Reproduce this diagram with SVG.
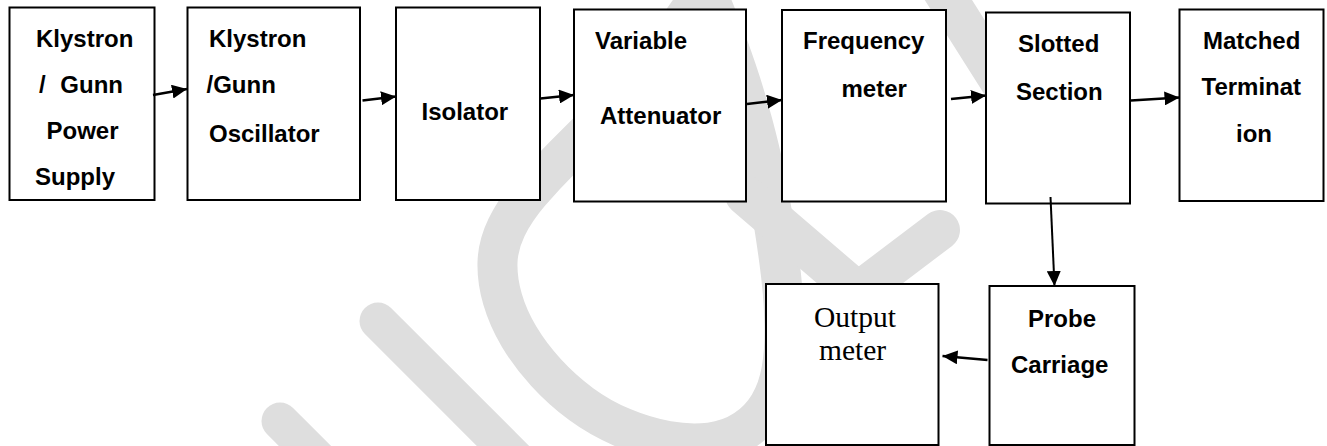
<svg xmlns="http://www.w3.org/2000/svg" width="1327" height="446" viewBox="0 0 1327 446">
<defs>
<style>
.wm{fill:none;stroke:#dedede;stroke-width:40;stroke-linejoin:round;stroke-linecap:round}
.box{fill:#fff;stroke:#000;stroke-width:2}
.t{font-family:"Liberation Sans",Arial,sans-serif;font-weight:bold;font-size:24px;fill:#000}
.s{font-family:"Liberation Serif","Times New Roman",serif;font-size:29.5px;fill:#000}
.c{fill:none;stroke:#000;stroke-width:2.4}
</style>
<marker id="ah" viewBox="0 0 15 14" refX="15" refY="7" markerWidth="15" markerHeight="14" markerUnits="userSpaceOnUse" orient="auto">
<path d="M0,0 L15,7 L0,14 z" fill="#000"/>
</marker>
</defs>
<rect width="1327" height="446" fill="#fff"/>
<g id="watermark">
<path class="wm" style="stroke-width:37" d="M378,321 L580,523"/>
<path class="wm" style="stroke-width:37" d="M280,421 L380,521"/>
<path class="wm" d="M704,-10 L692,7.5 Q680,25 665,45 Q650,65 632.5,85 Q615,105 597.5,122.5 Q580,140 562.5,157.5 Q545,175 530,192.5 Q515,210 506.5,227.5 Q498,245 497.5,262.5 Q497,280 502.5,299 Q508,318 519,336.5 Q530,355 546,372.5 Q562,390 581,404 Q600,418 622.5,427.5 Q645,437 667.5,441 Q690,445 710,442.5 Q730,440 745,430 Q760,420 769,405 Q778,390 781.5,370 Q785,350 784.5,325 Q784,300 781,275 Q778,250 774,225 Q770,200 765,175 Q760,150 752.5,122.5 Q745,95 736.5,70 Q728,45 720,25 L712,5"/>
<path class="wm" d="M745,195 L858,292 L940,230"/>
<path class="wm" d="M925,-37 L1040,145"/>
</g>
<g id="node1"><rect class="box" x="9.5" y="7.5" width="145" height="192.5"/>
<text class="t" x="36" y="46.5">Klystron</text>
<text class="t" x="39" y="93" word-spacing="8">/ Gunn</text>
<text class="t" x="46.5" y="139">Power</text>
<text class="t" x="35" y="185">Supply</text></g>
<g id="node2"><rect class="box" x="187.5" y="7.5" width="172.5" height="192.5"/>
<text class="t" x="209" y="46.5">Klystron</text>
<text class="t" x="206.5" y="93">/Gunn</text>
<text class="t" x="209" y="141.5">Oscillator</text></g>
<g id="node3"><rect class="box" x="396" y="7.5" width="144" height="192.5"/>
<text class="t" x="421.5" y="120">Isolator</text></g>
<g id="node4"><rect class="box" x="574" y="9.5" width="172" height="192"/>
<text class="t" x="595" y="49.3">Variable</text>
<text class="t" x="600" y="124">Attenuator</text></g>
<g id="node5"><rect class="box" x="782" y="10" width="164" height="191.5"/>
<text class="t" x="803" y="49.3">Frequency</text>
<text class="t" x="841.5" y="96.7">meter</text></g>
<g id="node6"><rect class="box" x="986" y="12.5" width="144" height="191"/>
<text class="t" x="1018" y="51.7">Slotted</text>
<text class="t" x="1016" y="100">Section</text></g>
<g id="node7"><rect class="box" x="1179.5" y="9.5" width="144" height="191.5"/>
<text class="t" x="1203" y="49.3">Matched</text>
<text class="t" x="1201.5" y="95">Terminat</text>
<text class="t" x="1236" y="141.7">ion</text></g>
<g id="node8"><rect class="box" x="766" y="284" width="172.5" height="161"/>
<text class="s" x="814" y="326.7">Output</text>
<text class="s" x="819" y="360">meter</text></g>
<g id="node9"><rect class="box" x="989.5" y="286" width="145" height="159"/>
<text class="t" x="1028" y="326.7">Probe</text>
<text class="t" x="1011" y="372.7">Carriage</text></g>
<g id="connectors">
<line class="c" x1="153" y1="95" x2="187" y2="89" marker-end="url(#ah)"/>
<line class="c" x1="362.5" y1="100.5" x2="396" y2="96.5" marker-end="url(#ah)"/>
<line class="c" x1="540.5" y1="98.5" x2="574" y2="95" marker-end="url(#ah)"/>
<line class="c" x1="747" y1="104" x2="782" y2="100" marker-end="url(#ah)"/>
<line class="c" x1="951" y1="99" x2="986" y2="95.5" marker-end="url(#ah)"/>
<line class="c" x1="1131" y1="100.5" x2="1179.5" y2="97.5" marker-end="url(#ah)"/>
<line class="c" style="stroke-width:2" x1="1050.5" y1="197" x2="1054.5" y2="286" marker-end="url(#ah)"/>
<line class="c" x1="987.5" y1="360" x2="942.5" y2="356" marker-end="url(#ah)"/>
</g>
</svg>
